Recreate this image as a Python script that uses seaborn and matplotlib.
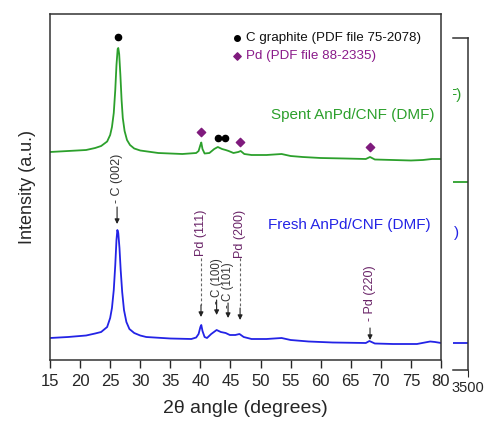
import numpy as np
import pandas as pd
import matplotlib
matplotlib.use("Agg")
import matplotlib.pyplot as plt
import seaborn as sns

# XRD patterns (intensity in arbitrary units)
two_theta_spent = [15, 18, 21, 22.5, 23.5, 24.5, 25.0, 25.3, 25.6, 25.85, 26.05, 26.25, 26.35,
                   26.5, 26.7, 26.9, 27.1, 27.4, 27.8, 28.3, 29, 30, 33, 37, 39.3, 39.7, 40.0,
                   40.15, 40.35, 40.7, 41.5, 42.3, 42.9, 43.6, 44.2, 44.7, 45.5, 46.3, 46.7, 47.3,
                   48.5, 51, 53.5, 55, 57, 60, 64, 67.5, 68.2, 69, 72, 75, 77, 78.5, 80]
int_spent = [2080, 2090, 2100, 2120, 2140, 2185, 2250, 2330, 2470, 2700, 2950, 3110, 3120,
             3060, 2850, 2600, 2420, 2290, 2200, 2150, 2115, 2095, 2070, 2060, 2070, 2090, 2150,
             2175, 2110, 2065, 2070, 2110, 2130, 2110, 2100, 2090, 2070, 2080, 2090, 2060,
             2050, 2050, 2060, 2040, 2030, 2020, 2015, 2010, 2030, 2005, 2000, 1995, 2000, 2010, 2010]

two_theta_fresh = [15, 18, 21, 22.5, 23.5, 24.5, 25.0, 25.3, 25.6, 25.85, 26.05, 26.2, 26.35,
                   26.55, 26.75, 27.0, 27.3, 27.7, 28.2, 29, 30, 31, 35, 38.5, 39.3, 39.7, 40.0,
                   40.15, 40.35, 40.7, 41.1, 41.8, 42.7, 43.4, 44.2, 44.9, 45.8, 46.5, 47.2, 48.5,
                   51, 53.5, 55, 58, 62, 67.5, 68.1, 69, 72, 76, 78.2, 79, 80]
int_fresh = [220, 230, 245, 265, 280, 330, 420, 520, 700, 950, 1200, 1300, 1270,
             1120, 900, 680, 500, 380, 310, 270, 245, 230, 215, 210, 225, 260, 330,
             350, 290, 230, 220, 260, 300, 280, 270, 250, 250, 260, 230, 210,
             210, 220, 200, 185, 175, 170, 190, 165, 160, 160, 185, 180, 170]

# phase markers above the spent pattern
graphite_x = [26.3, 42.9, 44.1]
graphite_y = [3230, 2220, 2220]
pd_x = [40.1, 46.6, 68.2]
pd_y = [2280, 2180, 2130]

# reflection labels on the fresh pattern: label, x, text top, dash start, dash end, arrow tip
refl_labels = ["- C (002)", "Pd (111)", "- C (100)", "- C (101)", "Pd (200)", "- Pd (220)"]
refl_x = [26.15, 40.1, 42.7, 44.6, 46.6, 68.2]
refl_text_top = [2060, 1500, 1020, 980, 1500, 950]
refl_dash_top = [1530, 1020, 600, 570, 1020, 320]
refl_arrow_from = [1530, 550, 600, 570, 520, 320]
refl_tip = [1360, 430, 450, 420, 400, 200]
refl_colors = ["#333333", "#6a2468", "#333333", "#333333", "#6a2468", "#6a2468"]
refl_sizes = [9, 9, 8.3, 8.3, 9, 9]

# what is left of the neighbouring panel
side_x = [0, 1]
side_green = [0.566, 0.566]
side_blue = [0.081, 0.081]

sns.set_style("ticks")
plt.rcParams["font.family"] = ["Liberation Sans", "DejaVu Sans"]

fig = plt.figure(figsize=(4.85, 4.23), dpi=100)
ax = fig.add_axes([50 / 485, 1 - 360 / 423, 391 / 485, 346 / 423])

spent = pd.DataFrame({"x": two_theta_spent, "y": int_spent})
fresh = pd.DataFrame({"x": two_theta_fresh, "y": int_fresh})
sns.lineplot(data=spent, x="x", y="y", color="#2ca02c", lw=1.3, ax=ax, estimator=None, sort=False)
sns.lineplot(data=fresh, x="x", y="y", color="#2323e6", lw=1.3, ax=ax, estimator=None, sort=False)

ax.scatter(graphite_x, graphite_y, s=20, color="black", zorder=3)
ax.scatter(pd_x, pd_y, s=18, marker="D", color="#7f1a7d", zorder=3)

# legend made of markers and text
ax.scatter([46.06], [3220], s=16, color="black")
ax.scatter([46.06], [3040], s=14, marker="D", color="#7f1a7d")
ax.text(47.6, 3220, "C graphite (PDF file 75-2078)", fontsize=9.6, va="center", color="#111111")
ax.text(47.6, 3040, "Pd (PDF file 88-2335)", fontsize=9.6, va="center", color="#8a1a8a")

ax.text(79.0, 2450, "Spent AnPd/CNF (DMF)", fontsize=11, color="#2ca02c", ha="right", va="center")
ax.text(78.2, 1350, "Fresh AnPd/CNF (DMF)", fontsize=11, color="#2323e6", ha="right", va="center")

for lab, x, tt, dt, af, tip, c, fs in zip(refl_labels, refl_x, refl_text_top, refl_dash_top,
                                          refl_arrow_from, refl_tip, refl_colors, refl_sizes):
    ax.text(x, tt, lab, rotation=90, fontsize=fs, ha="center", va="top", color=c)
    if dt > af:
        ax.plot([x, x], [dt, af], ls=(0, (2.5, 2)), lw=0.8, color="#666666")
    ax.annotate("", xy=(x, tip), xytext=(x, af),
                arrowprops=dict(arrowstyle="-|>", color="#222222", lw=0.8,
                                mutation_scale=7, shrinkA=0, shrinkB=0))

ax.set_xlim(15, 80)
ax.set_ylim(0, 3460)
ax.set_xticks(range(15, 81, 5))
ax.set_yticks([])
ax.tick_params(axis="x", direction="out", length=6, width=1, labelsize=12, pad=4)
ax.set_xlabel("2θ angle (degrees)", fontsize=14, labelpad=8)
ax.set_ylabel("Intensity (a.u.)", fontsize=13, labelpad=10)
for s in ax.spines.values():
    s.set_visible(True)
    s.set_linewidth(1.1)
    s.set_color("#333333")

# neighbouring panel, cut off at the figure edge
ax2 = fig.add_axes([453 / 485, 1 - 370 / 423, 15 / 485, 332 / 423])
ax2.plot(side_x, side_green, color="#2ca02c", lw=1.3)
ax2.plot(side_x, side_blue, color="#2323e6", lw=1.3)
ax2.text(0.6, 0.828, "F)", fontsize=11, color="#2ca02c", ha="right", va="center",
         transform=ax2.transAxes, clip_on=True)
ax2.text(0.4, 0.413, ")", fontsize=11, color="#2323e6", ha="right", va="center",
         transform=ax2.transAxes, clip_on=True)
ax2.set_xlim(0, 1)
ax2.set_ylim(0, 1)
ax2.set_xticks([1])
ax2.set_xticklabels(["3500"])
ax2.set_yticks([])
ax2.tick_params(axis="x", direction="out", length=5, labelsize=10.5, pad=3)
ax2.spines["left"].set_visible(False)
for k in ["top", "right", "bottom"]:
    ax2.spines[k].set_visible(True)
    ax2.spines[k].set_linewidth(1.1)
    ax2.spines[k].set_color("#333333")
ax2.patch.set_alpha(0)

fig.savefig("out.png", dpi=100)
